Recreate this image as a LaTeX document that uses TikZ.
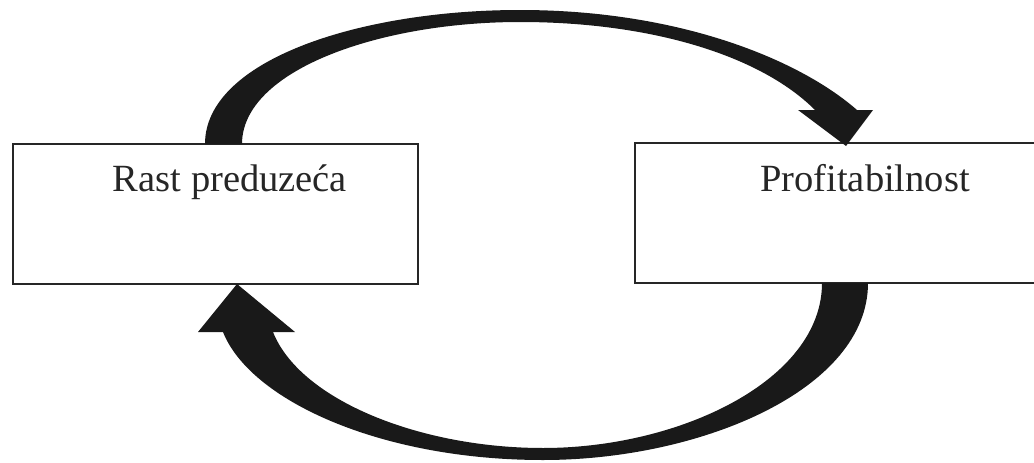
\documentclass[tikz,border=0pt]{standalone}
\usepackage{fontspec}
\setmainfont{Liberation Serif}
\begin{document}
\begin{tikzpicture}[x=1pt,y=-1pt,
  box/.style={draw=black!85, line width=2.6pt, rectangle, inner sep=0pt},
  lbl/.style={anchor=base, inner sep=0pt, text=black!85, font=\fontsize{38.5}{46}\selectfont},
  bigarrow/.style={fill=black!90, draw=none}]
\useasboundingbox (0,0) rectangle (1034,463);
\clip (0,0) rectangle (1034,463);
% boxes
\node[box, minimum width=405pt, minimum height=140pt] (rast) at (215.5,214) {};
\node[box, minimum width=405pt, minimum height=140pt] (prof) at (837.5,213) {};
\node[lbl] (rastl) at (230,191) {Rast preduzeća};
\node[lbl] (profl) at (865,191) {Profitabilnost};
% top curved arrow: Rast -> Profitabilnost
\fill[bigarrow] (205,144) .. controls (205,60) and (360,10) .. (520,10)
  .. controls (680,10) and (800,60) .. (857,110)
  -- (873,110) -- (846,146) -- (798,110) -- (815,110)
  .. controls (760,55) and (650,22) .. (520,22)
  .. controls (380,22) and (242,70) .. (242,144) -- cycle;
% bottom curved arrow: Profitabilnost -> Rast
\fill[bigarrow] (868,283) .. controls (868,390) and (700,460) .. (543,460)
  .. controls (380,460) and (250,400) .. (223,332)
  -- (198,332) -- (237,284) -- (295,332) -- (273,332)
  .. controls (300,400) and (420,448) .. (543,448)
  .. controls (680,448) and (822,380) .. (822,283) -- cycle;
\end{tikzpicture}
\end{document}
